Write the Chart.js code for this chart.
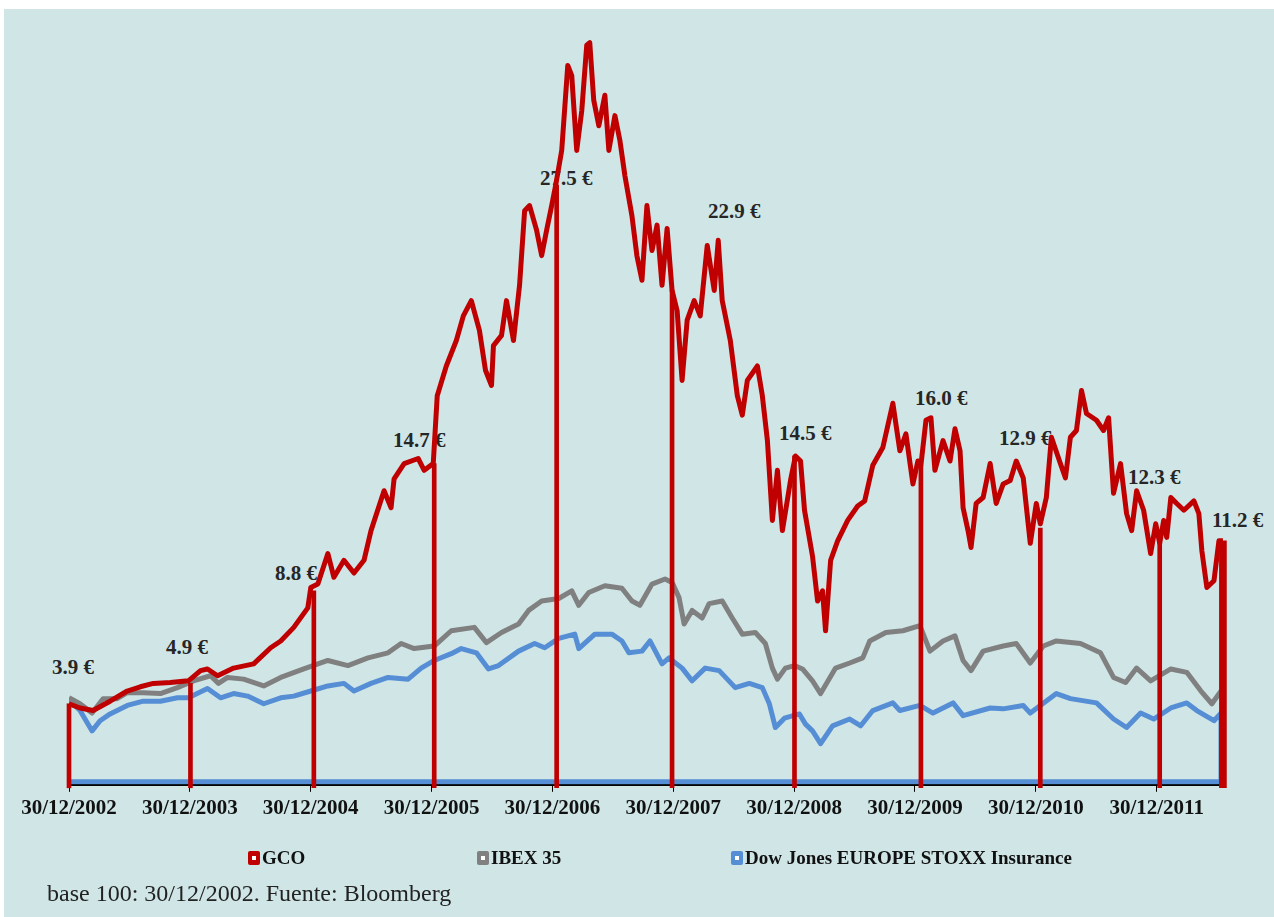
<!DOCTYPE html>
<html>
<head>
<meta charset="utf-8">
<script src="https://cdn.jsdelivr.net/npm/chart.js@4.4.0/dist/chart.umd.min.js"></script>
<style>
  body { margin: 0; background: #fff; width: 1274px; height: 917px; overflow: hidden; position: relative; font-family: 'Liberation Serif', serif; }
  #panel { position: absolute; left: 4px; top: 9px; width: 1270px; height: 908px; background: #cfe5e6; }
  #wrap { position: absolute; left: 4px; top: 9px; width: 1270px; height: 908px; z-index: 2; }
  .price { position: absolute; z-index: 1; font-weight: bold; font-size: 21px; color: #262626; transform: translateY(-50%); white-space: nowrap; line-height: 1; }
  .leg { position: absolute; z-index: 3; top: 858px; transform: translateY(-50%); display: flex; align-items: center; font-weight: bold; font-size: 19px; color: #111; white-space: nowrap; }
  .mk { display: inline-block; width: 12px; height: 14px; border-radius: 2px; position: relative; margin-right: 2px; }
  .mk::after { content: ''; position: absolute; left: 4px; top: 5px; width: 4px; height: 4px; background: #fff; }
  #note { position: absolute; z-index: 3; left: 47px; top: 893px; transform: translateY(-50%); font-size: 24px; color: #222; white-space: nowrap; }
</style>
</head>
<body>
<div id="panel"></div>
<div id="labels"></div>
<div id="wrap"><canvas id="myChart"></canvas></div>
<div id="legend"></div>
<div id="note">base 100: 30/12/2002. Fuente: Bloomberg</div>
<script>
// x = years since 30/12/2002, y = base 100
const tickLabels = ['30/12/2002', '30/12/2003', '30/12/2004', '30/12/2005', '30/12/2006',
  '30/12/2007', '30/12/2008', '30/12/2009', '30/12/2010', '30/12/2011'];

const seriesNames = ['GCO', 'IBEX 35', 'Dow Jones EUROPE STOXX Insurance'];
const seriesColors = ['#c00000', '#808080', '#558ed5'];

const gcoT = [0, 0.091, 0.199, 0.34, 0.482, 0.59, 0.697, 0.839, 0.988, 1.088, 1.146, 1.229, 1.362, 1.528, 1.669, 1.752, 1.86, 1.976,
  2.001, 2.059, 2.142, 2.192, 2.275, 2.358, 2.441, 2.499, 2.607, 2.665, 2.69, 2.773, 2.889, 2.939, 3.014, 3.047, 3.122, 3.205,
  3.263, 3.329, 3.396, 3.446, 3.496, 3.512, 3.579, 3.62, 3.678, 3.728, 3.77, 3.811, 3.869, 3.911, 3.952, 3.994, 4.027, 4.077,
  4.127, 4.16, 4.201, 4.243, 4.284, 4.309, 4.342, 4.384, 4.434, 4.467, 4.517, 4.558, 4.6, 4.658, 4.699, 4.741, 4.782, 4.824,
  4.866, 4.907, 4.949, 4.99, 5.032, 5.073, 5.115, 5.173, 5.223, 5.281, 5.339, 5.372, 5.405, 5.472, 5.53, 5.571, 5.613, 5.696,
  5.737, 5.779, 5.82, 5.862, 5.903, 5.97, 6.011, 6.053, 6.086, 6.152, 6.194, 6.235, 6.26, 6.302, 6.36, 6.443, 6.526, 6.584,
  6.651, 6.734, 6.817, 6.875, 6.925, 6.983, 7.024, 7.049, 7.091, 7.132, 7.165, 7.232, 7.29, 7.331, 7.373, 7.398, 7.439, 7.464,
  7.506, 7.564, 7.622, 7.672, 7.73, 7.788, 7.838, 7.896, 7.954, 8.004, 8.037, 8.087, 8.129, 8.203, 8.245, 8.286, 8.336, 8.378,
  8.419, 8.502, 8.56, 8.602, 8.643, 8.701, 8.751, 8.793, 8.834, 8.892, 8.95, 8.992, 9.025, 9.058, 9.083, 9.117, 9.166, 9.225,
  9.308, 9.349, 9.374, 9.415, 9.474, 9.515, 9.548];
const gcoV = [92, 87, 84, 95, 107, 112, 116, 117, 119, 131, 133, 125, 134, 139, 158, 166, 182, 205,
  229, 233, 269, 241, 261, 246, 261, 296, 343, 323, 357, 375, 381, 367, 375, 455, 490, 520,
  549, 567, 532, 485, 467, 514, 526, 567, 520, 585, 673, 679, 650, 620, 650, 679, 703, 744,
  844, 832, 744, 791, 868, 871, 803, 773, 809, 744, 785, 756, 714, 667, 620, 591, 679, 626,
  656, 585, 652, 579, 555, 473, 544, 567, 549, 632, 579, 638, 567, 520, 455, 432, 473, 490,
  455, 402, 308, 367, 296, 355, 384, 378, 320, 266, 213, 225, 178, 261, 284, 308, 325, 331,
  373, 394, 446, 390, 410, 351, 378, 373, 426, 429, 367, 402, 378, 416, 390, 323, 296, 276,
  328, 335, 375, 328, 351, 355, 378, 358, 281, 328, 304, 335, 406, 375, 358, 406, 414, 461,
  434, 426, 414, 429, 340, 375, 316, 296, 343, 320, 269, 304, 281, 308, 288, 335, 328, 320,
  331, 316, 272, 229, 237, 284, 284];

const ibexT = [0, 0.091, 0.191, 0.282, 0.399, 0.482, 0.614, 0.756, 0.897, 1.03, 1.171, 1.237, 1.312, 1.445, 1.611, 1.752, 1.943,
  2.142, 2.308, 2.474, 2.64, 2.748, 2.856, 3.022, 3.163, 3.354, 3.454, 3.579, 3.72, 3.803, 3.911, 4.052, 4.16, 4.218, 4.301,
  4.434, 4.575, 4.658, 4.724, 4.824, 4.932, 4.99, 5.048, 5.09, 5.156, 5.239, 5.297, 5.405, 5.488, 5.571, 5.679, 5.762, 5.82,
  5.862, 5.928, 6.003, 6.069, 6.152, 6.219, 6.343, 6.46, 6.568, 6.626, 6.759, 6.9, 7.041, 7.124, 7.232, 7.331, 7.398, 7.464,
  7.564, 7.73, 7.838, 7.954, 8.062, 8.17, 8.369, 8.535, 8.643, 8.743, 8.834, 8.95, 9.117, 9.249, 9.366, 9.457, 9.532];
const ibexV = [99, 92, 81, 98, 98, 105, 105, 104, 111, 119, 125, 116, 123, 121, 113, 123, 133,
  143, 137, 146, 152, 163, 157, 160, 178, 182, 164, 176, 186, 202, 213, 216, 225, 208, 223,
  231, 228, 213, 208, 233, 239, 235, 217, 186, 202, 193, 210, 213, 193, 174, 176, 163, 134,
  121, 134, 137, 133, 119, 104, 134, 140, 146, 166, 176, 178, 184, 154, 166, 172, 143, 131,
  154, 160, 163, 140, 160, 166, 163, 152, 123, 117, 134, 119, 133, 129, 107, 92, 107];

// the insurance line closes back along the baseline, as in the source chart
const stoxxT = [0, 0.091, 0.191, 0.257, 0.34, 0.482, 0.614, 0.756, 0.897, 0.988, 1.146, 1.254, 1.362, 1.478, 1.611, 1.752, 1.86,
  2.001, 2.142, 2.275, 2.358, 2.499, 2.64, 2.806, 2.914, 3.022, 3.163, 3.246, 3.371, 3.471, 3.554, 3.72, 3.853, 3.936, 4.052,
  4.185, 4.218, 4.351, 4.492, 4.575, 4.633, 4.741, 4.807, 4.907, 4.965, 5.073, 5.156, 5.264, 5.38, 5.513, 5.629, 5.737, 5.795,
  5.845, 5.92, 6.044, 6.094, 6.152, 6.219, 6.318, 6.46, 6.551, 6.651, 6.817, 6.875, 7.041, 7.149, 7.315, 7.398, 7.622, 7.73,
  7.896, 7.954, 8.037, 8.17, 8.286, 8.502, 8.643, 8.751, 8.867, 8.975, 9.117, 9.249, 9.332, 9.474, 9.532, 9.532, 0];
const stoxxV = [97, 84, 60, 72, 80, 90, 95, 95, 99, 99, 110, 99, 104, 101, 92, 99, 101,
  107, 113, 116, 107, 116, 123, 121, 134, 143, 151, 157, 152, 133, 137, 154, 163, 158, 169,
  174, 157, 174, 174, 166, 152, 154, 166, 139, 146, 134, 119, 134, 131, 111, 116, 111, 92,
  64, 75, 80, 68, 60, 45, 66, 74, 66, 84, 93, 84, 90, 81, 93, 78, 87, 86,
  90, 81, 90, 104, 98, 93, 74, 64, 81, 74, 87, 93, 84, 72, 81, 0, 0];

// GCO at each year end, drawn as drop lines
const yearEndT = [0, 1.005, 2.026, 3.022, 4.035, 4.99, 6.003, 7.049, 8.037, 9.025];
const yearEndV = [92, 116, 225, 375, 703, 579, 384, 373, 299, 281];
const lastT = [9.548];
const lastV = [284];

const priceLabels = ['3.9 €', '4.9 €', '8.8 €', '14.7 €', '27.5 €', '22.9 €', '14.5 €', '16.0 €', '12.9 €', '12.3 €', '11.2 €'];
const priceLabelPos = [[52, 667], [166, 647], [275, 573], [393, 440], [540, 178], [708, 211], [779, 433], [915, 398], [999, 438], [1128, 477], [1212, 520]];
const legendLeft = [248, 477, 731];

function pts(t, v) {
  return t.map((x, i) => ({ x: x, y: v[i] }));
}

let html = '';
priceLabels.forEach((txt, i) => {
  html += `<div class="price" style="left:${priceLabelPos[i][0]}px;top:${priceLabelPos[i][1]}px">${txt}</div>`;
});
document.getElementById('labels').innerHTML = html;

let leg = '';
seriesNames.forEach((name, i) => {
  leg += `<div class="leg" style="left:${legendLeft[i]}px"><span class="mk" style="background:${seriesColors[i]}"></span>${name}</div>`;
});
document.getElementById('legend').innerHTML = leg;

const ctx = document.getElementById('myChart');
new Chart(ctx, {
  type: 'line',
  data: {
    datasets: [
      {
        type: 'bar',
        data: pts(yearEndT, yearEndV),
        backgroundColor: seriesColors[0],
        barThickness: 4,
        grouped: false,
        base: -7,
        clip: false,
        order: 0,
      },
      {
        type: 'bar',
        data: pts(lastT, lastV),
        backgroundColor: seriesColors[0],
        barThickness: 7,
        grouped: false,
        base: -7,
        clip: false,
        order: 0,
      },
      {
        label: seriesNames[0],
        data: pts(gcoT, gcoV),
        borderColor: seriesColors[0],
        borderWidth: 5,
        pointRadius: 0,
        borderJoinStyle: 'round',
        order: 1,
      },
      {
        label: seriesNames[1],
        data: pts(ibexT, ibexV),
        borderColor: seriesColors[1],
        borderWidth: 5,
        pointRadius: 0,
        borderJoinStyle: 'round',
        order: 2,
      },
      {
        label: seriesNames[2],
        data: pts(stoxxT, stoxxV),
        borderColor: seriesColors[2],
        borderWidth: 5,
        pointRadius: 0,
        borderJoinStyle: 'round',
        order: 3,
      },
    ],
  },
  options: {
    animation: false,
    responsive: true,
    maintainAspectRatio: false,
    events: [],
    layout: {
      padding: { left: 65, right: 50, top: 9, bottom: 92 },
    },
    plugins: {
      legend: { display: false },
      tooltip: { enabled: false },
    },
    scales: {
      x: {
        type: 'linear',
        min: 0,
        max: 9.557,
        offset: false,
        afterBuildTicks: function (axis) {
          axis.ticks = tickLabels.map((_, i) => ({ value: i }));
        },
        ticks: {
          callback: function (value) {
            return tickLabels[value];
          },
          maxRotation: 0,
          autoSkip: false,
          color: '#111',
          padding: 4,
          font: { family: 'Liberation Serif', size: 21, weight: 'bold' },
        },
        grid: {
          display: true,
          drawOnChartArea: false,
          drawTicks: true,
          tickLength: 7,
          color: '#000',
          offset: false,
        },
        border: { display: true, color: '#000', width: 2 },
      },
      y: {
        display: false,
        min: -3.5,
        max: 900,
      },
    },
  },
});
</script>
</body>
</html>
